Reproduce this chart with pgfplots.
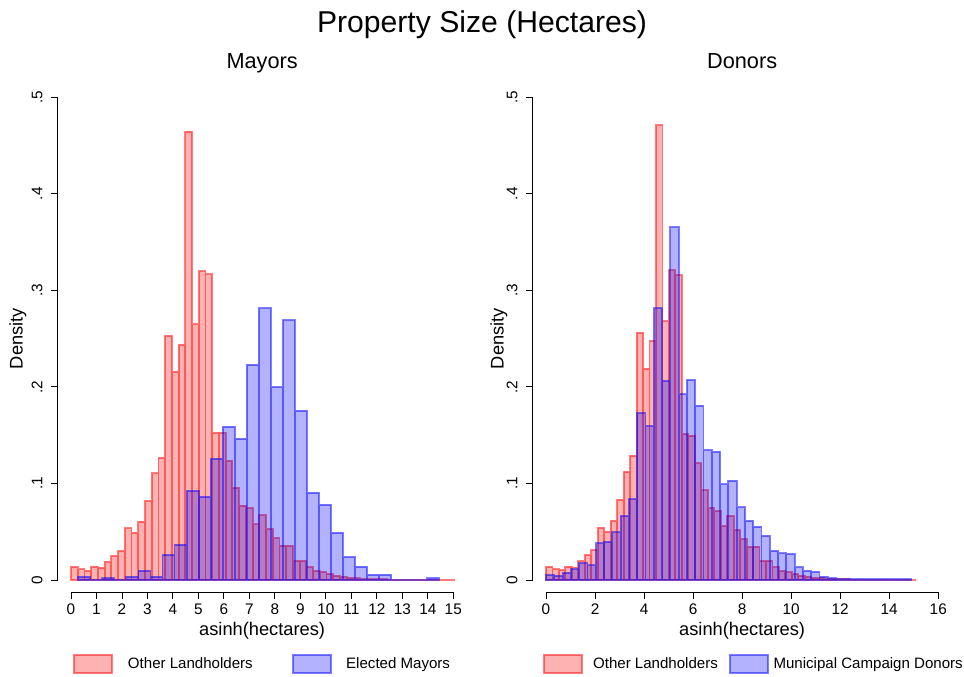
\documentclass[border=0pt]{standalone}
\usepackage{fontspec}
\setmainfont{Liberation Sans}
\usepackage{pgfplots}
\pgfplotsset{compat=1.18}

\definecolor{sred}{RGB}{255,0,0}
\definecolor{sblue}{RGB}{0,0,255}

% Stata-like panel: detached axis lines, rotated y labels
\pgfplotsset{
  statapanel/.style={
    scale only axis, height=362pt,
    ymin=0, ymax=0.5,
    ytick={0,0.1,0.2,0.3,0.4,0.5}, yticklabels={0,.1,.2,.3,.4,.5},
    axis lines=left, axis line style={-, line width=0.7pt, black},
    axis x line shift=9.2pt, axis y line shift=10pt,
    tick align=outside, major tick length=5.25pt,
    tick style={line width=0.7pt, black},
    clip=false,
    /pgf/number format/assume math mode=true,
    tick label style={font=\fontsize{11.5}{13}\selectfont},
    yticklabel style={rotate=90, anchor=south, inner sep=6pt},
    title style={font=\fontsize{16.3}{19}\selectfont, at={(0.5,1)}, anchor=base, yshift=15.6pt},
    xlabel style={font=\fontsize{13.7}{16}\selectfont, at={(axis description cs:0.5,0)}, anchor=base, yshift=-42pt},
    ylabel style={font=\fontsize{13.7}{16}\selectfont, anchor=center},
    xlabel={asinh(hectares)}, ylabel={Density},
    legend columns=2,
    legend style={draw=none, fill=none, inner sep=0pt, outer sep=0pt,
      font=\fontsize{11.3}{13}\selectfont, nodes={inner sep=0pt}, cells={anchor=west}},
  },
  redbars/.style={ybar interval, fill=sred, fill opacity=0.3, draw=sred, draw opacity=0.5, line width=1.4pt},
  bluebars/.style={ybar interval, fill=sblue, fill opacity=0.3, draw=sblue, draw opacity=0.5, line width=1.4pt},
  swatch/.style={legend image code/.code={\draw[##1,/tikz/.cd] (0pt,-6.75pt) rectangle (28.5pt,6.75pt); \path (#1,0pt);}},
}

\pgfplotstableread{
x y
0 0.0138
0.264 0.0110
0.528 0.0097
0.792 0.0138
1.056 0.0128
1.320 0.0190
1.583 0.0250
1.847 0.0300
2.111 0.0535
2.375 0.0490
2.639 0.0604
2.903 0.0820
3.167 0.1105
3.431 0.1267
3.695 0.2530
3.959 0.2158
4.222 0.2437
4.486 0.4644
4.750 0.2648
5.014 0.3197
5.278 0.3166
5.542 0.1526
5.806 0.1526
6.070 0.1236
6.334 0.0956
6.598 0.0770
6.861 0.0743
7.125 0.0577
7.389 0.0670
7.653 0.0525
7.917 0.0432
8.181 0.0356
8.445 0.0356
8.709 0.0200
8.973 0.0200
9.237 0.0131
9.500 0.0097
9.764 0.0083
10.028 0.0062
10.292 0.0045
10.556 0.0035
10.820 0.0024
11.084 0.0017
11.348 0.0010
11.612 0.0008
11.876 0.0007
12.139 0.0006
12.403 0.0005
12.667 0.0005
12.931 0.0004
13.195 0.0004
13.459 0.0003
13.723 0.0003
13.987 0.0003
14.251 0.0002
14.515 0.0002
14.778 0.0002
15.042 0
}\othersmayors

\pgfplotstableread{
x y
0.287 0.0035
0.759 0
1.231 0.0017
1.703 0
2.175 0.0035
2.647 0.0097
3.119 0.0035
3.591 0.0259
4.063 0.0366
4.535 0.0925
5.007 0.0863
5.479 0.1257
5.951 0.1588
6.423 0.1464
6.895 0.2230
7.367 0.2814
7.839 0.1999
8.311 0.2690
8.783 0.1754
9.255 0.0904
9.727 0.0780
10.199 0.0490
10.671 0.0240
11.143 0.0138
11.615 0.0055
12.087 0.0055
12.559 0
13.031 0
13.503 0
13.975 0.0017
14.447 0
}\mayors

\pgfplotstableread{
x y
0 0.0138
0.264 0.0110
0.528 0.0104
0.792 0.0138
1.056 0.0130
1.320 0.0193
1.583 0.0259
1.847 0.0310
2.111 0.0542
2.375 0.0500
2.639 0.0614
2.903 0.0832
3.167 0.1122
3.431 0.1288
3.695 0.2562
3.959 0.2189
4.222 0.2476
4.486 0.4710
4.750 0.2680
5.014 0.3208
5.278 0.3156
5.542 0.1510
5.806 0.1495
6.070 0.1209
6.334 0.0929
6.598 0.0743
6.861 0.0715
7.125 0.0560
7.389 0.0663
7.653 0.0518
7.917 0.0421
8.181 0.0345
8.445 0.0345
8.709 0.0197
8.973 0.0200
9.237 0.0131
9.500 0.0097
9.764 0.0080
10.028 0.0060
10.292 0.0045
10.556 0.0035
10.820 0.0024
11.084 0.0017
11.348 0.0010
11.612 0.0008
11.876 0.0007
12.139 0.0006
12.403 0.0005
12.667 0.0005
12.931 0.0004
13.195 0.0004
13.459 0.0003
13.723 0.0003
13.987 0.0003
14.251 0.0002
14.515 0.0002
14.778 0.0002
15.042 0
}\othersdonors

\pgfplotstableread{
x y
0 0.0052
0.338 0.0045
0.676 0.0076
1.014 0.0110
1.352 0.0173
1.690 0.0152
2.028 0.0380
2.366 0.0397
2.704 0.0494
3.042 0.0663
3.380 0.0836
3.718 0.1727
4.056 0.1592
4.394 0.2814
4.732 0.2065
5.070 0.3653
5.408 0.1923
5.746 0.2070
6.084 0.1806
6.422 0.1343
6.760 0.1329
7.098 0.0991
7.436 0.1029
7.774 0.0753
8.112 0.0614
8.450 0.0552
8.788 0.0459
9.126 0.0304
9.464 0.0276
9.802 0.0269
10.140 0.0131
10.478 0.0097
10.816 0.0083
11.154 0.0035
11.492 0.0017
11.830 0.0010
12.168 0.0010
12.506 0.0012
12.844 0.0008
13.182 0.0008
13.520 0.0008
13.858 0.0006
14.196 0.0010
14.534 0.0010
14.872 0
}\donors

\begin{document}
\begin{tikzpicture}
\path[use as bounding box] (0pt,0pt) rectangle (723pt,507.75pt);

\node[font=\fontsize{22.6}{26}\selectfont, anchor=base] at (361.5pt,483.4pt) {Property Size (Hectares)};

% left panel: mayors
\begin{axis}[statapanel,
  at={(53.25pt,72.75pt)}, anchor=south west,
  width=286.7pt, xmin=0, xmax=15, xtick={0,1,...,15},
  title={Mayors},
  ylabel style={at={(axis description cs:-0.1386,0.5)}},
  legend style={at={(axis description cs:0.0047,-0.174)}, anchor=west,
    /tikz/every even column/.append style={column sep=29.5pt}},
]
\addplot[redbars, swatch=40pt] table[x=x, y=y] {\othersmayors};
\addlegendentry{Other Landholders}
\addplot[bluebars, swatch=39.15pt] table[x=x, y=y] {\mayors};
\addlegendentry{Elected Mayors}
\end{axis}

% right panel: donors
\begin{axis}[statapanel,
  at={(409.5pt,72.75pt)}, anchor=south west,
  width=294.2pt, xmin=0, xmax=16, xtick={0,2,...,16},
  title={Donors},
  ylabel style={at={(axis description cs:-0.1198,0.5)}},
  legend style={at={(axis description cs:-0.0065,-0.174)}, anchor=west,
    /tikz/every even column/.append style={column sep=8.6pt}},
]
\addplot[redbars, swatch=35.85pt] table[x=x, y=y] {\othersdonors};
\addlegendentry{Other Landholders}
\addplot[bluebars, swatch=31.7pt] table[x=x, y=y] {\donors};
\addlegendentry{Municipal Campaign Donors}
\end{axis}
\end{tikzpicture}
\end{document}
